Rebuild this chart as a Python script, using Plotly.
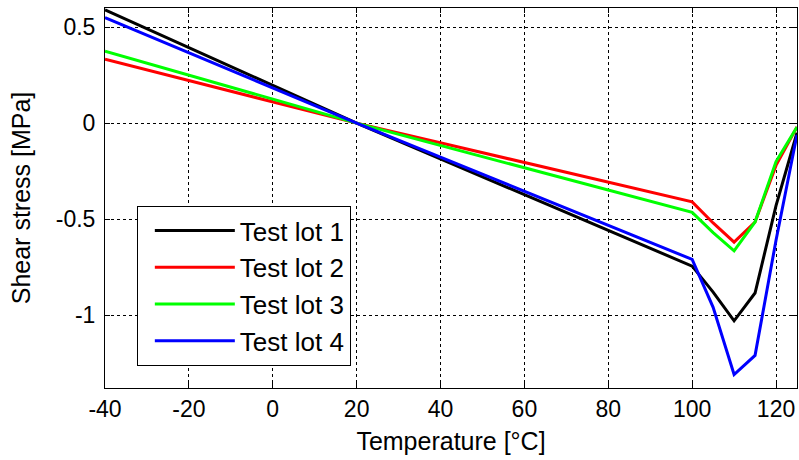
import plotly.graph_objects as go

temps = [-40, 20, 100, 105, 110, 115, 120, 125]
lot1 = [0.59, 0.0, -0.745, -0.88, -1.03, -0.885, -0.43, -0.05]
lot2 = [0.333, 0.0, -0.41, -0.52, -0.62, -0.515, -0.22, -0.02]
lot3 = [0.375, 0.0, -0.465, -0.57, -0.665, -0.515, -0.2, -0.02]
lot4 = [0.55, 0.0, -0.71, -0.96, -1.31, -1.21, -0.61, -0.06]
names = ["Test lot 1", "Test lot 2", "Test lot 3", "Test lot 4"]
colors = ["#000000", "#ff0000", "#00ff00", "#0000ff"]

xticks = [-40, -20, 0, 20, 40, 60, 80, 100, 120]
yticks = [-1, -0.5, 0, 0.5]
yticklabels = ["-1", "-0.5", "0", "0.5"]
xticklabels = [str(v) for v in xticks]

fig = go.Figure()
for name, ys, c in zip(names, [lot1, lot2, lot3, lot4], colors):
    fig.add_trace(go.Scatter(x=temps, y=ys, mode="lines", name=name,
                             line=dict(color=c, width=3)))

fam = "Arial, Liberation Sans, sans-serif"
tickfont = dict(family=fam, size=23, color="black")
titlefont = dict(family=fam, size=25, color="black")
legfont = dict(family=fam, size=26, color="black")
axis_common = dict(showline=True, linecolor="black", linewidth=1, mirror="ticks",
                   ticks="inside", ticklen=5, tickcolor="black",
                   showgrid=True, gridcolor="black", gridwidth=1, griddash="dot",
                   zeroline=False, tickfont=tickfont)
fig.update_layout(
    width=799, height=460,
    margin=dict(l=105, r=2, t=8, b=72),
    paper_bgcolor="white", plot_bgcolor="white",
    font=tickfont,
    xaxis=dict(range=[-40, 125], tickvals=xticks, ticktext=xticklabels,
               title=dict(text="Temperature [°C]", font=titlefont, standoff=11), **axis_common),
    yaxis=dict(range=[-1.38, 0.6], tickvals=yticks, ticktext=yticklabels,
               ticklabelstandoff=4,
               title=dict(text="Shear stress [MPa]", font=titlefont, standoff=18), **axis_common),
    legend=dict(x=0.046, y=0.479, xanchor="left", yanchor="top",
                bgcolor="white", bordercolor="black", borderwidth=1,
                font=legfont, itemwidth=80, tracegroupgap=0, indentation=12),
    showlegend=True,
)
fig.write_html("out.html")
